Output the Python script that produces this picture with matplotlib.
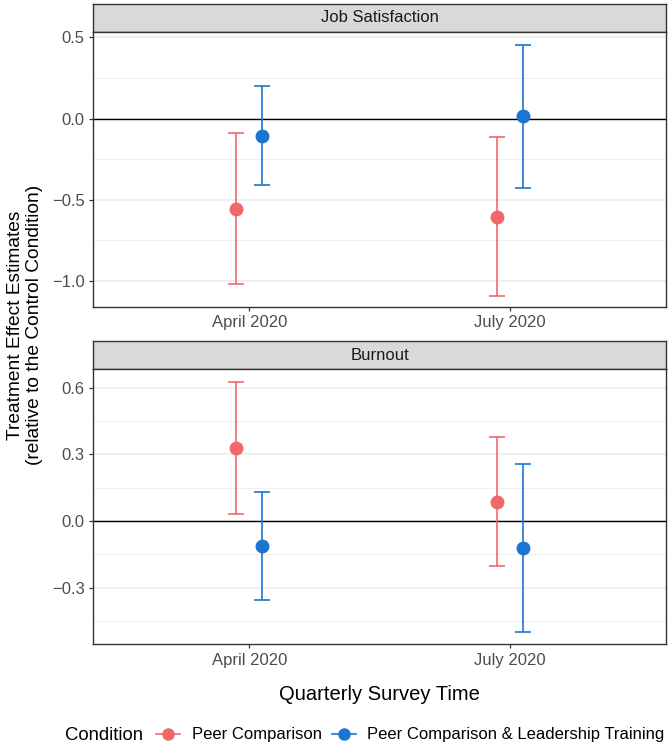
import matplotlib
matplotlib.use("Agg")
import matplotlib.pyplot as plt
from matplotlib.lines import Line2D
import numpy as np

plt.rcParams["font.family"] = ["Liberation Sans", "DejaVu Sans"]

# data
times = ["April 2020", "July 2020"]
conditions = ["Peer Comparison", "Peer Comparison & Leadership Training"]
colors = ["#F0686B", "#1C75D0"]

# Job Satisfaction
js_est = {"Peer Comparison": [-0.554, -0.603],
          "Peer Comparison & Leadership Training": [-0.105, 0.014]}
js_low = {"Peer Comparison": [-1.019, -1.093],
          "Peer Comparison & Leadership Training": [-0.407, -0.430]}
js_high = {"Peer Comparison": [-0.089, -0.113],
           "Peer Comparison & Leadership Training": [0.201, 0.454]}

# Burnout
bo_est = {"Peer Comparison": [0.327, 0.087],
          "Peer Comparison & Leadership Training": [-0.113, -0.123]}
bo_low = {"Peer Comparison": [0.030, -0.204],
          "Peer Comparison & Leadership Training": [-0.356, -0.501]}
bo_high = {"Peer Comparison": [0.625, 0.378],
           "Peer Comparison & Leadership Training": [0.129, 0.255]}

W, H = 670, 747
fig = plt.figure(figsize=(W / 100, H / 100), dpi=100)


def px_axes(left, top, right, bottom):
    return fig.add_axes([left / W, 1 - bottom / H, (right - left) / W, (bottom - top) / H])


panels = [
    ("Job Satisfaction", js_est, js_low, js_high, (3.5, 32, 307),
     (-1.16, 0.533), [0.5, 0.0, -0.5, -1.0], [0.25, -0.25, -0.75]),
    ("Burnout", bo_est, bo_low, bo_high, (340.7, 369.3, 644.3),
     (-0.555, 0.683), [0.6, 0.3, 0.0, -0.3], [0.45, 0.15, -0.15, -0.45]),
]

left, right = 93, 666
dodge = [-0.05, 0.05]
xpos = np.arange(1, len(times) + 1)

for title, est, low, high, (st_top, top, bottom), ylim, major, minor in panels:
    # strip
    sax = px_axes(left, st_top, right, top)
    sax.set_facecolor("#D9D9D9")
    sax.set_xticks([])
    sax.set_yticks([])
    for s in sax.spines.values():
        s.set_color("#333333")
        s.set_linewidth(1.0)
    sax.text(0.5, 0.5, title, ha="center", va="center", fontsize=12,
             color="#1A1A1A", transform=sax.transAxes)

    ax = px_axes(left, top, right, bottom)
    ax.set_xlim(0.4, 2.6)
    ax.set_ylim(*ylim)
    for y in major:
        ax.axhline(y, color="#EBEBEB", lw=1.1, zorder=0)
    for y in minor:
        ax.axhline(y, color="#EBEBEB", lw=0.55, zorder=0)
    ax.axhline(0, color="black", lw=1.0, zorder=1)

    for i, cond in enumerate(conditions):
        e = np.array(est[cond])
        lo = np.array(low[cond])
        hi = np.array(high[cond])
        ax.errorbar(xpos + dodge[i], e, yerr=[e - lo, hi - e], fmt="o",
                    color=colors[i], ms=9, capsize=6, capthick=1.2,
                    elinewidth=1.2, zorder=3)

    ax.set_yticks(major)
    ax.set_yticklabels([f"{v:.1f}".replace("-", "\u2212") for v in major])
    ax.set_xticks(xpos)
    ax.set_xticklabels(times)
    ax.tick_params(axis="both", labelsize=12, labelcolor="#4D4D4D",
                   color="#333333", length=3, width=0.9, pad=3)
    for s in ax.spines.values():
        s.set_color("#333333")
        s.set_linewidth(1.0)

fig.text(25 / W, 1 - 325 / H, "Treatment Effect Estimates\n(relative to the Control Condition)",
         rotation=90, ha="center", va="center", fontsize=13.8, linespacing=1.2)
fig.text((left + right) / 2 / W, 1 - 695 / H, "Quarterly Survey Time",
         ha="center", va="center", fontsize=14.5)

fig.text(65 / W, 1 - 735 / H, "Condition", ha="left", va="center", fontsize=13.3)
handles = [Line2D([0], [0], color=c, marker="o", ms=8, lw=1.2) for c in colors]
fig.legend(handles, conditions, ncol=2, loc="center left", frameon=False,
           bbox_to_anchor=(156 / W, 1 - 735 / H), fontsize=12, borderpad=0,
           handlelength=1.44, handletextpad=0.7, columnspacing=0.6, borderaxespad=0)

fig.savefig("out.png", dpi=100)
